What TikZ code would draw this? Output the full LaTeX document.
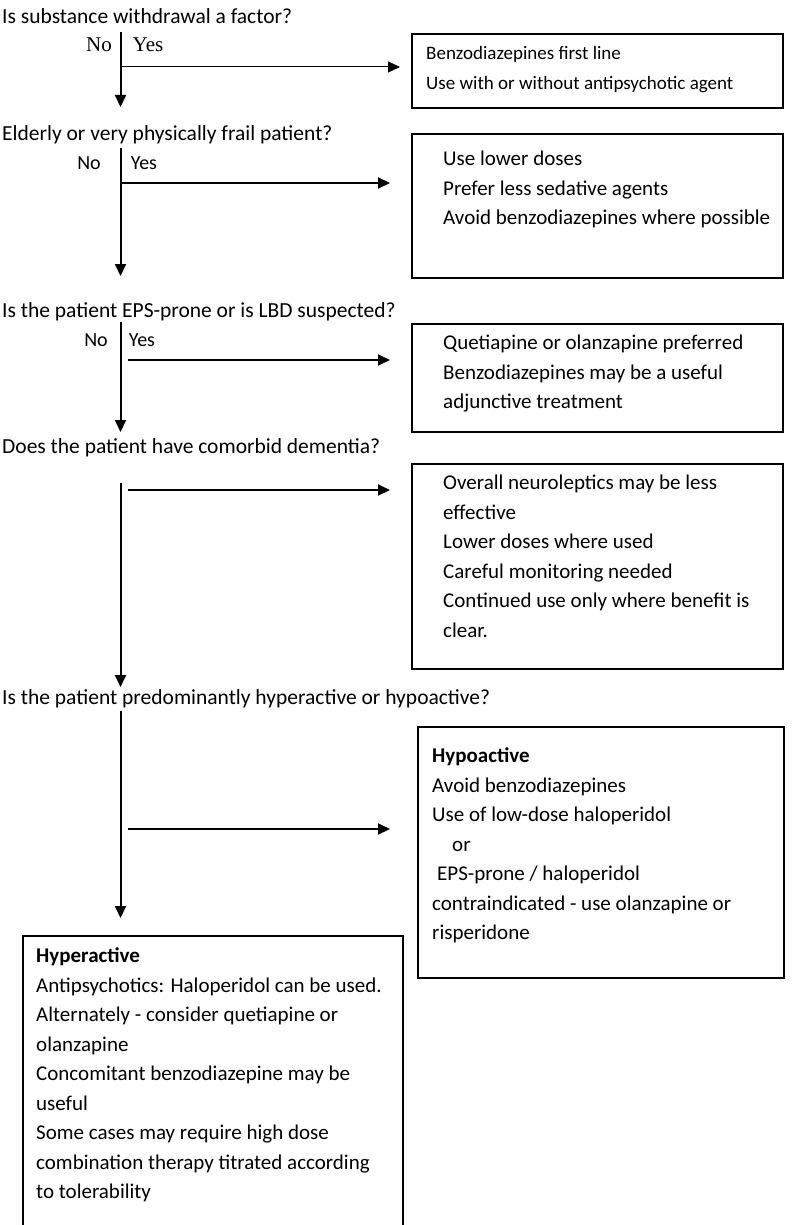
\documentclass[tikz,border=0pt]{standalone}
\usepackage{fontspec}
\setmainfont{Carlito}
\newfontfamily\timesfont{Liberation Serif}
\usetikzlibrary{arrows.meta,positioning}
\tikzset{
  question/.style={anchor=west, inner sep=0pt, font=\fontsize{21.5}{25}\selectfont},
  answer/.style={inner sep=0pt, font=\fontsize{20}{24}\selectfont},
  frame/.style={draw, line width=1.8pt, anchor=north west, inner sep=0pt},
  boxtext/.style={anchor=north west, align=left, inner sep=0pt, font=\fontsize{21}{29.5}\selectfont},
  flow/.style={line width=2pt, -{Triangle[length=12pt,width=11pt]}},
}
\begin{document}
\begin{tikzpicture}[x=1pt,y=-1pt]
\useasboundingbox (0,0) rectangle (794,1225);
\clip (0,0) rectangle (794,1225);

% questions
\node[question] (q1) at (2,16) {Is substance withdrawal a factor?};
\node[question] (q2) at (2,135) {Elderly or very physically frail patient?};
\node[question] (q3) at (2,312) {Is the patient EPS-prone or is LBD suspected?};
\node[question] (q4) at (2,448) {Does the patient have comorbid dementia?};
\node[question] (q5) at (2,699) {Is the patient predominantly hyperactive or hypoactive?};

% no / yes
\node[answer,font=\timesfont\fontsize{21}{24}\selectfont] (n1) at (99,45) {No};
\node[answer,font=\timesfont\fontsize{21}{24}\selectfont] (a1) at (148,45) {Yes};
\node[answer] (n2) at (89,163) {No};
\node[answer] (a2) at (144,163) {Yes};
\node[answer] (n3) at (96,340) {No};
\node[answer] (a3) at (142,340) {Yes};

% boxes
\node[frame, minimum width=371pt, minimum height=74pt] (f1) at (411,33) {};
\node[boxtext, font=\fontsize{19}{30}\selectfont] (t1) at ([shift={(15,13)}]f1.north west)
  {Benzodiazepines first line\\Use with or without antipsychotic agent};
\node[frame, minimum width=371pt, minimum height=144pt] (f2) at (411,133) {};
\node[boxtext] (t2) at ([shift={(32,18)}]f2.north west)
  {Use lower doses\\Prefer less sedative agents\\Avoid benzodiazepines where possible};
\node[frame, minimum width=371pt, minimum height=108pt] (f3) at (411,323) {};
\node[boxtext] (t3) at ([shift={(32,12)}]f3.north west)
  {Quetiapine or olanzapine preferred\\Benzodiazepines may be a useful\\adjunctive treatment};
\node[frame, minimum width=371pt, minimum height=205pt] (f4) at (411,463) {};
\node[boxtext] (t4) at ([shift={(32,12)}]f4.north west)
  {Overall neuroleptics may be less\\effective\\Lower doses where used\\Careful monitoring needed\\Continued use only where benefit is\\clear.};
\node[frame, minimum width=366pt, minimum height=251pt] (f5) at (417,726) {};
\node[boxtext] (t5) at ([shift={(15,22)}]f5.north west)
  {\textbf{Hypoactive}\\Avoid benzodiazepines\\Use of low-dose haloperidol\\\hspace*{20pt}or\\\hspace*{5pt}EPS-prone / haloperidol\\contraindicated - use olanzapine or\\risperidone};
\node[frame, minimum width=380pt, minimum height=330pt] (f6) at (22,935) {};
\node[boxtext] (t6) at ([shift={(14,13)}]f6.north west)
  {\textbf{Hyperactive}\\Antipsychotics: Haloperidol can be used.\\Alternately - consider quetiapine or\\olanzapine\\Concomitant benzodiazepine may be\\useful\\Some cases may require high dose\\combination therapy titrated according\\to tolerability};

% main line
\coordinate (s1) at (120.5,32);  \coordinate (e1) at (120.5,107);
\coordinate (s2) at (120.5,148); \coordinate (e2) at (120.5,276);
\coordinate (s3) at (120.5,322); \coordinate (e3) at (120.5,432);
\coordinate (s4) at (120.5,483); \coordinate (e4) at (120.5,687);
\coordinate (s5) at (120.5,711); \coordinate (e5) at (120.5,918);
\foreach \i in {1,...,5} \draw[flow] (s\i) -- (e\i);

% yes branches
\coordinate (y1) at (121.5,67);
\coordinate (y2) at (120.5,183);
\coordinate (y3) at (128,360);
\coordinate (y4) at (128,490);
\coordinate (y5) at (128,829);
\draw[flow, line width=1pt] (y1) -- ([xshift=-11pt]y1 -| f1.west);
\draw[flow] (y2) -- ([xshift=-21pt]y2 -| f2.west);
\draw[flow] (y3) -- ([xshift=-21pt]y3 -| f3.west);
\draw[flow] (y4) -- ([xshift=-21pt]y4 -| f4.west);
\draw[flow] (y5) -- ([xshift=-27pt]y5 -| f5.west);
\end{tikzpicture}
\end{document}
